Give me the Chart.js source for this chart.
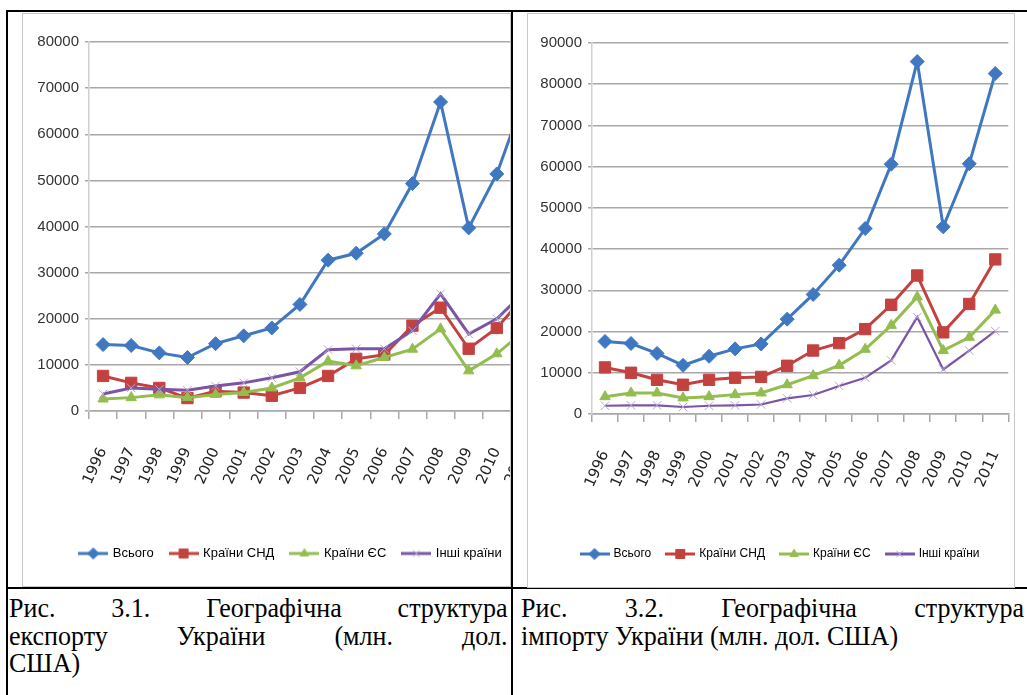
<!DOCTYPE html>
<html>
<head>
<meta charset="utf-8">
<script src="https://cdn.jsdelivr.net/npm/chart.js@4.4.0/dist/chart.umd.min.js"></script>
<style>
  body { margin: 0; width: 1027px; height: 695px; background: #fff; overflow: hidden; position: relative; }
  .rule { position: absolute; background: #000; }
  .frame { position: absolute; border: 1px solid #c8c8c8; overflow: hidden; background: #fff; box-sizing: border-box; }
  .frame canvas { position: absolute; left: 0; top: 0; }
  .cap {
    position: absolute; font-family: "Liberation Serif", "Times New Roman", serif;
    font-size: 28px; line-height: 27.5px; color: #000; white-space: nowrap;
    transform: scaleX(0.93); transform-origin: 0 0;
  }
  .cap div { height: 27.5px; }
  .cap .j { text-align: justify; text-align-last: justify; }
</style>
</head>
<body>
<div class="rule" style="left:7px;top:10px;width:1020px;height:2px"></div>
<div class="rule" style="left:6px;top:10px;width:2px;height:685px"></div>
<div class="rule" style="left:511px;top:10px;width:2px;height:685px"></div>
<div class="rule" style="left:7px;top:587px;width:1020px;height:2px"></div>

<div class="frame" style="left:22px;top:13px;width:489px;height:574px">
  <canvas id="exportChart" width="560" height="572"></canvas>
</div>
<div class="frame" style="left:527px;top:13px;width:488px;height:575px">
  <canvas id="importChart" width="510" height="573"></canvas>
</div>

<div class="cap" style="left:9px;top:594px;width:536px">
  <div class="j">Рис. 3.1. Географічна структура</div>
  <div class="j">експорту України (млн. дол.</div>
  <div>США)</div>
</div>
<div class="cap" style="left:521px;top:594px;width:541px">
  <div class="j">Рис. 3.2. Географічна структура</div>
  <div>імпорту України (млн. дол. США)</div>
</div>

<script>
const years = ['1996', '1997', '1998', '1999', '2000', '2001', '2002', '2003',
  '2004', '2005', '2006', '2007', '2008', '2009', '2010', '2011'];
const seriesNames = ['Всього', 'Країни СНД', 'Країни ЄС', 'Інші країни'];

// експорт, млн. дол. США
const exportTotal = [14400, 14200, 12600, 11600, 14600, 16300, 18000, 23100, 32700, 34200, 38400, 49300, 67000, 39700, 51400, 68400];
const exportCIS = [7600, 6100, 5000, 2800, 4300, 4000, 3300, 5000, 7600, 11300, 12200, 18500, 22400, 13500, 18000, 25000];
const exportEU = [2600, 2900, 3500, 2900, 3600, 4000, 5000, 7200, 10800, 9800, 11600, 13400, 17800, 8700, 12400, 17500];
const exportOther = [3700, 5000, 4700, 4500, 5400, 6100, 7200, 8500, 13300, 13500, 13500, 17400, 25400, 16700, 20000, 25900];

// імпорт, млн. дол. США
const importTotal = [17600, 17100, 14700, 11800, 14000, 15800, 17000, 23000, 29000, 36100, 45000, 60600, 85500, 45400, 60700, 82600];
const importCIS = [11300, 10000, 8300, 7100, 8300, 8800, 9000, 11700, 15400, 17200, 20600, 26500, 33600, 19800, 26700, 37500];
const importEU = [4200, 5100, 5100, 3900, 4200, 4700, 5100, 7100, 9300, 11800, 15700, 21500, 28400, 15400, 18600, 25200];
const importOther = [2000, 2100, 2100, 1700, 2000, 2100, 2300, 3800, 4600, 6800, 8800, 13000, 23500, 10800, 15400, 20100];

const STYLES = [
  { color: '#3f78c0', marker: 'rectRot', radius: 7, markerColor: '#3f78c0' },
  { color: '#c3423f', marker: 'rect', radius: 8, markerColor: '#c3423f' },
  { color: '#94bd4f', marker: 'triangle', radius: 6, markerColor: '#94bd4f' },
  { color: '#7a55a5', marker: 'crossRot', radius: 6, markerColor: '#b7a3d3' },
];
const SANS = "'Liberation Sans', Arial, sans-serif";

function legendIcon(st) {
  const c = document.createElement('canvas');
  c.width = 30; c.height = 16;
  const g = c.getContext('2d');
  g.strokeStyle = st.color; g.lineWidth = 3;
  g.beginPath(); g.moveTo(0, 8); g.lineTo(30, 8); g.stroke();
  g.fillStyle = st.markerColor; g.strokeStyle = st.markerColor; g.lineWidth = 1;
  Chart.helpers.drawPoint(g, { pointStyle: st.marker, radius: st.radius * 0.8, borderWidth: 1 }, 15, 8);
  return c;
}

// nudges the bottom legend sideways so it sits where the original one is
const legendShift = {
  id: 'legendShift',
  afterLayout(chart, args, opts) {
    chart.legend.left += opts.dx;
    chart.legend.right += opts.dx;
  },
};

function buildChart(id, series, yMax, box) {
  const icons = STYLES.map(legendIcon);
  return new Chart(document.getElementById(id), {
    type: 'line',
    data: {
      labels: years,
      datasets: series.map((values, i) => ({
        label: seriesNames[i],
        data: values,
        borderColor: STYLES[i].color,
        borderWidth: i === 3 ? box.otherWidth : 3,
        backgroundColor: STYLES[i].markerColor,
        pointStyle: STYLES[i].marker,
        pointRadius: STYLES[i].radius,
        pointBorderColor: STYLES[i].markerColor,
        pointBackgroundColor: STYLES[i].markerColor,
        pointBorderWidth: 1,
        tension: 0,
      })).reverse(),
    },
    plugins: [legendShift],
    options: {
      responsive: false,
      animation: false,
      layout: { padding: { left: 0, right: box.padRight, top: box.padTop, bottom: box.padBottom } },
      plugins: {
        tooltip: { enabled: false },
        legendShift: { dx: box.legendDx },
        legend: {
          position: 'bottom',
          labels: {
            usePointStyle: true,
            pointStyleWidth: 26,
            boxHeight: 15,
            padding: box.legendGap,
            color: '#404040',
            font: { family: SANS, size: box.legendFont },
            generateLabels: () => seriesNames.map((name, i) => ({
              text: name, pointStyle: icons[i], fillStyle: STYLES[i].color,
              strokeStyle: STYLES[i].color, lineWidth: 0, hidden: false,
            })),
          },
        },
      },
      scales: {
        x: {
          offset: true,
          grid: { offset: true, drawOnChartArea: false, tickLength: 8, color: '#a8a8a8', lineWidth: 1.5 },
          border: { color: '#a8a8a8', width: 1.5 },
          ticks: {
            autoSkip: false, minRotation: 66, maxRotation: 66, padding: 26,
            color: '#222', font: { family: "'DejaVu Sans', sans-serif", size: 15 },
          },
          afterFit: (s) => { s.height = box.xHeight; },
        },
        y: {
          min: 0, max: yMax,
          ticks: {
            stepSize: 10000, padding: 6, color: '#333',
            font: { family: SANS, size: 15 },
            callback: (v) => String(v),
          },
          grid: { color: '#a8a8a8', lineWidth: 1.5, tickLength: 4 },
          border: { color: '#d0d0d0', width: 1.5 },
          afterFit: (s) => { s.width = box.yWidth; },
        },
      },
    },
  });
}

buildChart('exportChart', [exportTotal, exportCIS, exportEU, exportOther], 80000,
  { padRight: 44, padTop: 28, padBottom: 16, yWidth: 66, xHeight: 119,
    legendDx: 10, legendGap: 17, legendFont: 13, otherWidth: 3 });
buildChart('importChart', [importTotal, importCIS, importEU, importOther], 90000,
  { padRight: 7, padTop: 29, padBottom: 17, yWidth: 64, xHeight: 118,
    legendDx: 1, legendGap: 16, legendFont: 12, otherWidth: 2.2 });
</script>
</body>
</html>
